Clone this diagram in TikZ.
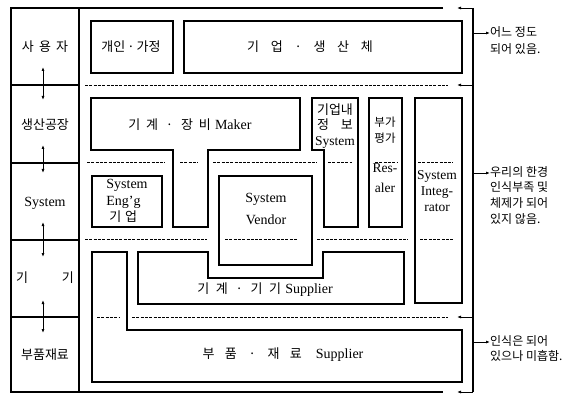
\documentclass[tikz,border=0pt]{standalone}
\usepackage{fontspec}
\setmainfont{Liberation Serif}
\newfontfamily\kr{Noto Sans CJK KR}
\usetikzlibrary{arrows.meta}
\newcommand{\gp}[1]{\hspace{#1}}
\newcommand{\K}[1]{{\kr\fontsize{13}{15}\selectfont #1}}
\newcommand{\Ks}[1]{{\kr\fontsize{11.5}{14}\selectfont #1}}
\begin{document}
\begin{tikzpicture}[x=1pt,y=-1pt,
  box/.style={draw,line width=1.1pt,line join=miter},
  dline/.style={line width=0.9pt,dash pattern=on 3pt off 1.3pt},
  outl/.style={line width=1.1pt},
  lbl/.style={font=\fontsize{13}{15}\selectfont\kr,inner sep=0pt},
  lat/.style={font=\fontsize{14}{16}\selectfont,inner sep=0pt,align=center},
  note/.style={font=\fontsize{12}{16}\selectfont\kr,align=left,anchor=north west,inner sep=0pt},
  arr/.style={-{Latex[length=4pt,width=3pt]},line width=0.8pt},
  darr/.style={{Latex[length=4pt,width=3pt]}-{Latex[length=4pt,width=3pt]},line width=0.8pt}]
\useasboundingbox (0,0) rectangle (588,395);
% outer frame and left column
\draw[outl] (443,8) -- (11,8) -- (11,392) -- (443,392);
\draw[outl] (79,8) -- (79,392);
\foreach \y in {85,163,240,317} \draw[outl] (11,\y) -- (79,\y);
% left labels
\node[lbl] (r1) at (45,47) {사\gp{0.4em}용\gp{0.4em}자};
\node[lbl] (r2) at (45,125) {생산공장};
\node[lat] (r3) at (45,203) {System};
\node[lbl] (r4) at (45,278) {기\gp{2.6em}기};
\node[lbl] (r5) at (45,355) {부품재료};
% double arrows
\coordinate (a1t) at (43,67);  \coordinate (a1b) at (43,100);
\coordinate (a2t) at (43,145); \coordinate (a2b) at (43,173);
\coordinate (a3t) at (43,222); \coordinate (a3b) at (43,257);
\coordinate (a4t) at (43,300); \coordinate (a4b) at (43,333);
\draw[darr] (a1t) -- (a1b);
\draw[darr] (a2t) -- (a2b);
\draw[darr] (a3t) -- (a3b);
\draw[darr] (a4t) -- (a4b);
% dashed separators
\draw[dline] (85,85) -- (448,85);
\foreach \a/\b in {87/165,180/198,213/317,328/352,375/397,418/453} \draw[dline] (\a,162) -- (\b,162);
\foreach \a/\b in {85/207,225/298,317/408,420/453} \draw[dline] (\a,239) -- (\b,239);
\foreach \a/\b in {97/120,132/448} \draw[dline] (\a,317) -- (\b,317);
% boxes
\draw[box] (91,21) rectangle (173,73);
\draw[box] (184,21) rectangle (462,73);
\draw[box] (91,98) -- (300,98) -- (300,150) -- (208,150) -- (208,227) -- (173,227) -- (173,150) -- (91,150) -- cycle;
\draw[box] (92,176) rectangle (162,227);
\draw[box] (219,176) rectangle (312,265);
\draw[box] (312,98) -- (358,98) -- (358,227) -- (324,227) -- (324,150) -- (312,150) -- cycle;
\draw[box] (369,98) rectangle (402,227);
\draw[box] (415,98) rectangle (462,303);
\draw[box] (138,252) -- (208,252) -- (208,278) -- (323,278) -- (323,252) -- (404,252) -- (404,304) -- (138,304) -- cycle;
\draw[box] (92,252) -- (127,252) -- (127,330) -- (462,330) -- (462,382) -- (92,382) -- cycle;
% box texts
\node[lbl] (t1) at (131,47) {개인\gp{0.15em}·\gp{0.15em}가정};
\node[lbl] (t2) at (310,47) {기\gp{0.9em}업\gp{0.9em}·\gp{0.9em}생\gp{0.9em}산\gp{0.9em}체};
\node[lat] (t3) at (190,125) {\K{기\gp{0.45em}계\gp{0.6em}·\gp{0.6em}장\gp{0.45em}비}\gp{0.3em}Maker};
\node[lat,align=left,font=\fontsize{14}{16.5}\selectfont] (t4) at (127,201) {System\\Eng'g\\\gp{3pt}\K{기\gp{0.3em}업}};
\node[lat,font=\fontsize{14}{22}\selectfont] (t5) at (266,209) {System\\Vendor};
\node[lat,font=\fontsize{13.5}{15.5}\selectfont] (t6) at (335,126) {\K{기업내}\\\K{정\gp{0.9em}보}\\System};
\node[lat] (t7) at (385,130) {\Ks{부가}\\\Ks{평가}};
\node[lat,font=\fontsize{13.5}{20}\selectfont] (t8) at (385,178) {Res-\\aler};
\node[lat,font=\fontsize{13.5}{16}\selectfont] (t9) at (437,191) {System\\Integ-\\rator};
\node[lat] (t10) at (265,290) {\K{기\gp{0.5em}계\gp{0.6em}·\gp{0.6em}기\gp{0.5em}기}\gp{0.3em}Supplier};
\node[lat] (t11) at (283,355) {\K{부\gp{0.8em}품\gp{0.9em}·\gp{0.9em}재\gp{0.8em}료}\gp{1em}Supplier};
% right bracket
\coordinate (bt) at (473,8);
\coordinate (bb) at (473,392);
\draw[outl] (bt) -- (bb);
\coordinate (l1) at (457,8);   \coordinate (l1s) at (473,8);
\coordinate (l2) at (457,85);  \coordinate (l2s) at (473,85);
\coordinate (l3) at (457,317); \coordinate (l3s) at (473,317);
\coordinate (l4) at (457,392); \coordinate (l4s) at (473,392);
\draw[arr] (l1s) -- (l1);
\draw[arr] (l2s) -- (l2);
\draw[arr] (l3s) -- (l3);
\draw[arr] (l4s) -- (l4);
% annotations
\node[note,font=\fontsize{12}{17}\selectfont\kr] (n1) at (490,26) {어느 정도\\되어 있음.};
\node[note,font=\fontsize{12}{15.7}\selectfont\kr] (n2) at (490,166) {우리의 한경\\인식부족 및\\체제가 되어\\있지 않음.};
\node[note,font=\fontsize{12}{15.5}\selectfont\kr] (n3) at (490,335) {인식은 되어\\있으나 미흡함.};
\coordinate (p1) at (473,33);
\coordinate (p2) at (473,173);
\coordinate (p3) at (473,342);
\draw[arr] (p1) -- (p1 -| n1.west);
\draw[arr] (p2) -- (p2 -| n2.west);
\draw[arr] (p3) -- (p3 -| n3.west);
\end{tikzpicture}
\end{document}
